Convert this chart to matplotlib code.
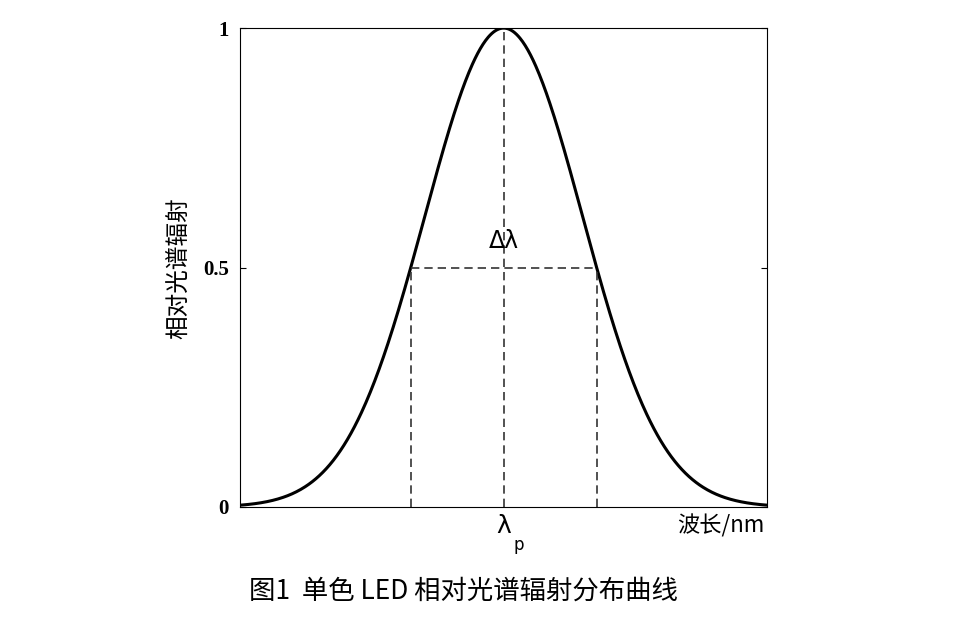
import numpy as np
import matplotlib
matplotlib.use("Agg")
import matplotlib.pyplot as plt

plt.rcParams['font.family'] = ['Noto Sans CJK SC', 'DejaVu Sans']

# model parameters of the spectral curve
peak_center = 0.0
fwhm = 2.355
x_min, x_max = -3.34, 3.34
y_ticks = [0, 0.5, 1]
y_tick_labels = ['0', '0.5', '1']

x = np.linspace(x_min, x_max, 600)
sigma = fwhm / 2.3548
y = np.exp(-0.5 * ((x - peak_center) / sigma) ** 2)
xl, xr = peak_center - fwhm / 2, peak_center + fwhm / 2

fig = plt.figure(figsize=(9.64, 6.24), dpi=100)
ax = fig.add_axes([0.249, 0.1875, 0.547, 0.7675])
ax.plot(x, y, color='black', lw=2.2)
dash = dict(color='#333333', lw=1.2, ls=(0, (5, 3)))
ax.plot([xl, xr], [0.5, 0.5], **dash)
ax.plot([xl, xl], [0, 0.5], **dash)
ax.plot([xr, xr], [0, 0.5], **dash)
ax.plot([peak_center, peak_center], [0, 1], **dash)
ax.set_xlim(x_min, x_max)
ax.set_ylim(0, 1)
ax.set_xticks([])
ax.set_yticks(y_ticks)
ax.set_yticklabels(y_tick_labels, fontfamily='Liberation Serif', fontweight='bold', fontsize=15)
ax.tick_params(axis='y', direction='in', right=True, length=4, pad=8)
for s in ax.spines.values():
    s.set_linewidth(0.8)
ax.text(peak_center, 0.53, 'Δλ', ha='center', va='bottom', fontsize=17, family=['DejaVu Sans'])
ax.text(peak_center, -0.015, 'λ', ha='center', va='top', fontsize=18, family=['DejaVu Sans'])
ax.text(peak_center + 0.13, -0.06, 'p', ha='left', va='top', fontsize=12, family=['DejaVu Sans'])
ax.text(2.75, -0.015, '波长/nm', ha='center', va='top', fontsize=16)
fig.text(0.185, 0.57, '相对光谱辐射', rotation=90, ha='center', va='center', fontsize=17)
fig.text(0.258, 0.052, '图1  单色 LED 相对光谱辐射分布曲线', ha='left', va='center', fontsize=19)
fig.savefig('out.png', dpi=100)
